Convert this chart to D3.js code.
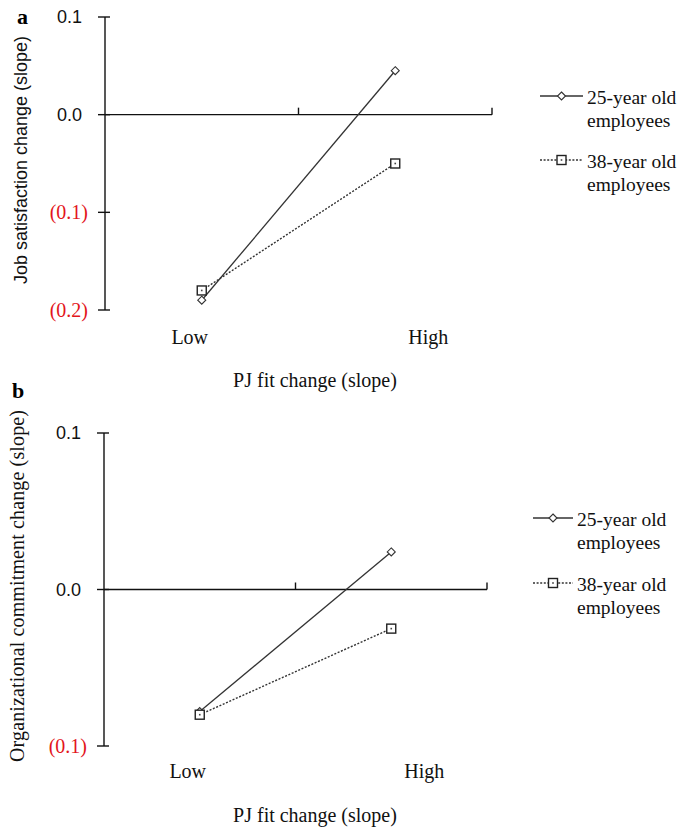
<!DOCTYPE html>
<html>
<head>
<meta charset="utf-8">
<script src="https://cdn.jsdelivr.net/npm/d3@7"></script>
<style>
  html, body { margin: 0; padding: 0; background: #fff; }
  svg { display: block; }
</style>
</head>
<body>
<div id="chart"></div>
<script>
// categories and series values
const categories = ['Low', 'High'];
const seriesLabels = [['25-year old', 'employees'], ['38-year old', 'employees']];
const jobSat25 = [-0.19, 0.045];
const jobSat38 = [-0.18, -0.05];
const orgCom25 = [-0.078, 0.024];
const orgCom38 = [-0.08, -0.025];
const ticksA = [0.1, 0.0, -0.1, -0.2];
const ticksB = [0.1, 0.0, -0.1];

const W = 681, H = 830;
const RED = '#e3151b';
const SERIF = '"Liberation Serif", "Times New Roman", serif';
const SANS = '"Liberation Sans", Arial, sans-serif';

const svg = d3.select('#chart').append('svg')
    .attr('width', W)
    .attr('height', H);

svg.append('rect').attr('width', W).attr('height', H).attr('fill', '#fff');

// panel settings (layout only)
const panels = [
    {
        letter: 'a', letterX: 17, letterY: 24,
        x0: 105, x1: 492, yTop: 17, yBot: 310,
        domain: [-0.2, 0.1], ticks: ticksA,
        yTitle: 'Job satisfaction change (slope)', yTitleFont: SANS, yTitleSize: 18,
        yTitleX: 21, yTitleY: 160, yTitleLen: null,
        catY: 344, titleY: 387,
        series: [jobSat25, jobSat38],
        legX: 540, legLen: 43, legY: 96, legGap: 64
    },
    {
        letter: 'b', letterX: 12, letterY: 398,
        x0: 104, x1: 487, yTop: 433, yBot: 746,
        domain: [-0.1, 0.1], ticks: ticksB,
        yTitle: 'Organizational commitment change (slope)', yTitleFont: SERIF, yTitleSize: 20,
        yTitleX: 17, yTitleY: 586, yTitleLen: 352,
        catY: 778, titleY: 822,
        series: [orgCom25, orgCom38],
        legX: 533, legLen: 40, legY: 518, legGap: 65
    }
];

const labelShift = [-12, 33];

panels.forEach(p => drawPanel(p));

function drawPanel(p) {
    const g = svg.append('g');

    const xScale = d3.scaleBand()
        .domain(categories)
        .range([p.x0, p.x1])
        .padding(0);

    const yScale = d3.scaleLinear()
        .domain(p.domain)
        .range([p.yBot, p.yTop]);

    const y0 = yScale(0);

    // panel letter
    g.append('text')
        .attr('x', p.letterX)
        .attr('y', p.letterY)
        .attr('font-family', SERIF)
        .attr('font-weight', 'bold')
        .attr('font-size', 22)
        .text(p.letter);

    // y axis line
    g.append('line')
        .attr('x1', p.x0).attr('x2', p.x0)
        .attr('y1', yScale(p.domain[1])).attr('y2', yScale(p.domain[0]))
        .attr('stroke', '#111').attr('stroke-width', 1.4);

    // y ticks cross the axis
    g.selectAll('.ytick')
        .data(p.ticks)
        .enter().append('line')
        .attr('x1', p.x0 - 7).attr('x2', p.x0 + 5)
        .attr('y1', d => yScale(d)).attr('y2', d => yScale(d))
        .attr('stroke', '#111').attr('stroke-width', 1.4);

    g.selectAll('.ylab')
        .data(p.ticks)
        .enter().append('text')
        .attr('x', d => d < 0 ? p.x0 - 17 : p.x0 - 23)
        .attr('y', d => yScale(d))
        .attr('dy', '0.35em')
        .attr('text-anchor', 'end')
        .attr('font-family', d => d < 0 ? SERIF : SANS)
        .attr('font-size', d => d < 0 ? 20 : 18)
        .attr('fill', d => d < 0 ? RED : '#111')
        .text(d => d < 0 ? `(${Math.abs(d).toFixed(1)})` : d.toFixed(1));

    // x axis at zero
    g.append('line')
        .attr('x1', p.x0).attr('x2', p.x1)
        .attr('y1', y0).attr('y2', y0)
        .attr('stroke', '#111').attr('stroke-width', 1.4);

    // category boundary ticks (pointing up)
    const bounds = categories.slice(1).map(c => xScale(c)).concat([p.x1]);
    g.selectAll('.xtick')
        .data(bounds)
        .enter().append('line')
        .attr('x1', d => d).attr('x2', d => d)
        .attr('y1', y0).attr('y2', y0 - 7)
        .attr('stroke', '#111').attr('stroke-width', 1.4);

    // category labels
    g.selectAll('.cat')
        .data(categories)
        .enter().append('text')
        .attr('x', (d, i) => xScale(d) + xScale.bandwidth() / 2 + labelShift[i])
        .attr('y', p.catY)
        .attr('text-anchor', 'middle')
        .attr('font-family', SERIF)
        .attr('font-size', 20)
        .attr('fill', '#111')
        .text(d => d);

    // x title
    g.append('text')
        .attr('x', 315)
        .attr('y', p.titleY)
        .attr('text-anchor', 'middle')
        .attr('font-family', SERIF)
        .attr('font-size', 20)
        .attr('fill', '#111')
        .text('PJ fit change (slope)');

    // y title
    const yt = g.append('text')
        .attr('transform', `translate(${p.yTitleX},${p.yTitleY}) rotate(-90)`)
        .attr('dy', '0.35em')
        .attr('text-anchor', 'middle')
        .attr('font-family', p.yTitleFont)
        .attr('font-size', p.yTitleSize)
        .attr('fill', '#111')
        .text(p.yTitle);
    if (p.yTitleLen) {
        yt.attr('textLength', p.yTitleLen).attr('lengthAdjust', 'spacing');
    }

    const cx = d => xScale(d) + xScale.bandwidth() / 2;

    // series lines
    const line = d3.line()
        .x((d, i) => cx(categories[i]))
        .y(d => yScale(d));

    p.series.forEach((vals, si) => {
        g.append('path')
            .datum(vals)
            .attr('fill', 'none')
            .attr('stroke', '#333')
            .attr('stroke-width', si === 0 ? 1.3 : 1.4)
            .attr('stroke-dasharray', si === 0 ? null : '2,1.6')
            .attr('d', line);
    });

    // markers (drawn after both lines)
    p.series.forEach((vals, si) => {
        vals.forEach((v, i) => {
            drawMarker(g, si, cx(categories[i]), yScale(v));
        });
    });

    // legend
    seriesLabels.forEach((lab, si) => {
        const ly = p.legY + si * p.legGap;
        g.append('line')
            .attr('x1', p.legX).attr('x2', p.legX + p.legLen)
            .attr('y1', ly).attr('y2', ly)
            .attr('stroke', '#333')
            .attr('stroke-width', 1.3)
            .attr('stroke-dasharray', si === 0 ? null : '2,1.6');
        drawMarker(g, si, p.legX + p.legLen / 2, ly);
        const t = g.append('text')
            .attr('x', p.legX + p.legLen + 4)
            .attr('y', ly + 8)
            .attr('font-family', SERIF)
            .attr('font-size', 19.5)
            .attr('fill', '#111');
        lab.forEach((s, k) => {
            t.append('tspan')
                .attr('x', p.legX + p.legLen + 4)
                .attr('dy', k === 0 ? 0 : 23)
                .text(s);
        });
    });
}

function drawMarker(g, si, x, y) {
    if (si === 0) {
        const r = 4;
        g.append('path')
            .attr('d', `M${x},${y - r}L${x + r},${y}L${x},${y + r}L${x - r},${y}Z`)
            .attr('fill', '#fff')
            .attr('stroke', '#333')
            .attr('stroke-width', 1.1);
    } else {
        const s = 9;
        g.append('rect')
            .attr('x', x - s / 2).attr('y', y - s / 2)
            .attr('width', s).attr('height', s)
            .attr('fill', '#fff')
            .attr('stroke', '#222')
            .attr('stroke-width', 1.4);
        g.append('rect')
            .attr('x', x - 0.8).attr('y', y - 0.8)
            .attr('width', 1.6).attr('height', 1.6)
            .attr('fill', '#444');
    }
}
</script>
</body>
</html>
